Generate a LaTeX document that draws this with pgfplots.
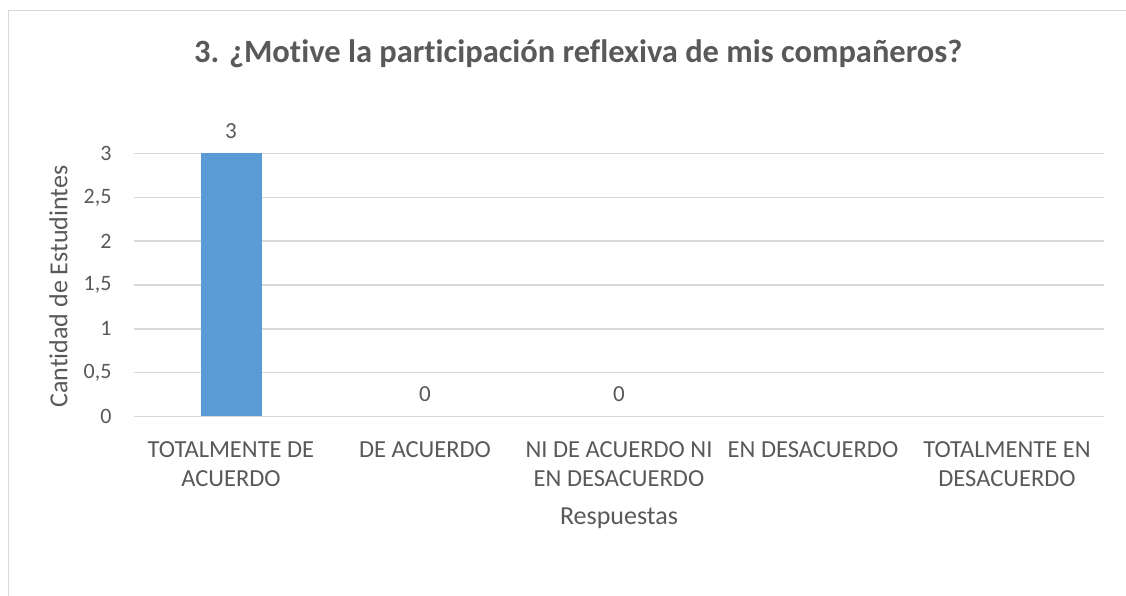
\documentclass[border=0pt]{standalone}
\usepackage{pgfplots}
\pgfplotsset{compat=1.18}
\usepackage{fontspec}
\setmainfont{Carlito}[Ligatures=CommonOff]
\definecolor{txt}{HTML}{595959}
\definecolor{gridc}{HTML}{D9D9D9}
\definecolor{barc}{HTML}{5B9BD5}
\begin{document}
\begin{tikzpicture}[x=1pt,y=1pt]
\useasboundingbox (0,0) rectangle (1126,596);
\draw[gridc, line width=1.5pt] (8.5,0) -- (8.5,585.5) -- (1126,585.5);
\begin{axis}[
  at={(134pt,179.5pt)}, anchor=south west,
  scale only axis, width=970pt, height=263pt,
  xmin=-0.5, xmax=4.5, ymin=0, ymax=3,
  ytick={0,0.5,1,1.5,2,2.5,3},
  xtick={0,1,2,3,4},
  xticklabels={TOTALMENTE DE\\ACUERDO, DE ACUERDO, NI DE ACUERDO NI\\EN DESACUERDO, EN DESACUERDO, TOTALMENTE EN\\DESACUERDO},
  xticklabel style={align=center, font=\fontsize{24.5}{29}\selectfont, text=txt, anchor=north, yshift=-21.5pt},
  yticklabel style={font=\fontsize{22}{26}\selectfont, text=txt, anchor=east, xshift=-19pt},
  /pgf/number format/use comma,
  /pgf/number format/assume math mode=true,
  axis line style={draw=none},
  major tick length=0pt,
  ymajorgrids, grid style={gridc, line width=1.5pt},
  ybar, bar width=61pt, bar shift=0pt,
  nodes near coords,
  nodes near coords style={font=\fontsize{23}{27}\selectfont, text=txt, yshift=11pt},
  title={\textbf{3. ¿Motive la participación reflexiva de mis compañeros?}},
  title style={at={(rel axis cs:0.458,1.355)}, anchor=center, font=\fontsize{32.5}{38}\selectfont, text=txt},
  xlabel={Respuestas},
  xlabel style={at={(rel axis cs:0.5,-0.386)}, anchor=center, font=\fontsize{26}{30}\selectfont, text=txt},
  ylabel={Cantidad de Estudintes},
  ylabel style={at={(rel axis cs:-0.0778,0.494)}, anchor=center, rotate=0, font=\fontsize{26}{30}\selectfont, text=txt},
  clip=false,
]
\addplot[fill=barc, draw=none] coordinates {(0,3)};
\addplot[fill=none, draw=none] coordinates {(1,0) (2,0)};
\end{axis}
\end{tikzpicture}
\end{document}
